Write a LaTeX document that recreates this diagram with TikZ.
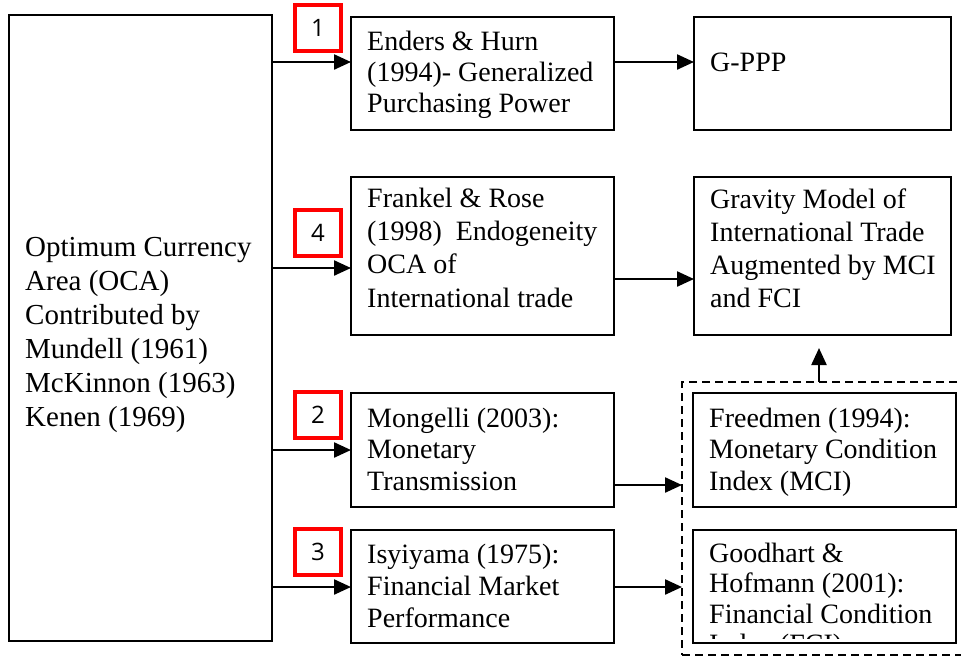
\documentclass[tikz,border=0pt]{standalone}
\usepackage{fontspec}
\setmainfont{Liberation Serif}
\newfontfamily\numfont{Open Sans}
\usetikzlibrary{arrows.meta,calc}

% invisible strut that fixes the top of the first text line
\newcommand\capline{\rule{0pt}{22pt}}

\begin{document}
\begin{tikzpicture}[x=1pt,y=-1pt,
  box/.style={draw=black, line width=1.8pt, anchor=north west, inner sep=0pt, outer sep=0pt},
  txt/.style={font=\fontsize{28}{#1}\selectfont, align=left, inner sep=0pt, anchor=north west},
  txt/.default=32,
  numbox/.style={draw=red, line width=4pt, minimum size=46pt, inner sep=0pt,
                 font=\numfont\fontsize{24}{26}\selectfont},
  arr/.style={line width=2.3pt, -{Triangle[length=17pt,width=15pt]}},
  dashbox/.style={draw=black, line width=1.8pt, dash pattern=on 8pt off 5pt,
                  anchor=north west, inner sep=0pt, outer sep=0pt}]
\useasboundingbox (0,0) rectangle (961,657);

% ---- boxes ----
\node[box, minimum width=263pt, minimum height=626pt] (oca) at (9,15) {};
\node[box, minimum width=263pt, minimum height=113pt] (enders) at (351,17) {};
\node[box, minimum width=263pt, minimum height=158pt] (frankel) at (351,177) {};
\node[box, minimum width=263pt, minimum height=114pt] (mong) at (351,393) {};
\node[box, minimum width=263pt, minimum height=113pt] (isiy) at (351,530) {};
\node[box, minimum width=257pt, minimum height=113pt] (gppp) at (694,17) {};
\node[box, minimum width=257pt, minimum height=158pt] (grav) at (694,177) {};
\node[box, minimum width=263pt, minimum height=114pt] (freed) at (693,393) {};
\node[box, minimum width=263pt, minimum height=113pt] (good) at (693,530) {};

% dashed frame around the two index boxes (runs off the right edge)
\begin{scope}
  \clip (0,0) rectangle (961,657);
  \node[dashbox, minimum width=300pt, minimum height=273pt] (idx) at (682,382) {};
\end{scope}

% ---- texts ----
\node[txt=34, font=\fontsize{29}{34}\selectfont] (tOca) at (25,234) {\capline Optimum Currency\\Area (OCA)\\Contributed by\\Mundell (1961)\\McKinnon (1963)\\Kenen (1969)};
\node[txt=31] (tEnders) at (367,28) {\capline Enders \& Hurn\\(1994)- Generalized\\Purchasing Power};
\node[txt=33.3] (tFrankel) at (367,185) {\capline Frankel \& Rose\\(1998)\ \ Endogeneity\\OCA of\\International trade};
\node[txt=31.5] (tMong) at (367,405) {\capline Mongelli (2003):\\Monetary\\Transmission};
\node[txt=32] (tIsiy) at (367,541) {\capline Isyiyama (1975):\\Financial Market\\Performance};
\node[txt] (tGppp) at (710,49) {\capline G-PPP};
\node[txt=33] (tGrav) at (710,186) {\capline Gravity Model of\\International Trade\\Augmented by MCI\\and FCI};
\node[txt=31.5] (tFreed) at (709,405) {\capline Freedmen (1994):\\Monetary Condition\\Index (MCI)};
\begin{scope}
  \clip (693,530) rectangle (956,638);
  \node[txt=30.5] (tGood) at (709,540) {\capline Goodhart \&\\Hofmann (2001):\\Financial Condition\\Index (FCI)};
\end{scope}

% ---- numbered tags ----
\node[numbox] (n1) at (318,28) {1};
\node[numbox] (n4) at (318,233) {4};
\node[numbox] (n2) at (318,415) {2};
\node[numbox] (n3) at (318,552) {3};

% ---- connector levels ----
\coordinate (r1) at (0,62);
\coordinate (r4) at (0,268);
\coordinate (r2) at (0,450);
\coordinate (r3) at (0,587);
\coordinate (rg) at (0,279);
\coordinate (rm) at (0,485);
\coordinate (up) at (819,0);

% ---- connectors ----
\draw[arr] (oca.east |- r1) -- (enders.west |- r1);
\draw[arr] (oca.east |- r4) -- (frankel.west |- r4);
\draw[arr] (oca.east |- r2) -- (mong.west |- r2);
\draw[arr] (oca.east |- r3) -- (isiy.west |- r3);
\draw[arr] (enders.east |- r1) -- (gppp.west |- r1);
\draw[arr] (frankel.east |- rg) -- (grav.west |- rg);
\draw[arr] (mong.east |- rm) -- (idx.west |- rm);
\draw[arr] (isiy.east |- r3) -- (idx.west |- r3);
\draw[arr] (idx.north -| up) -- ($(grav.south -| up)+(0,13)$);
\end{tikzpicture}
\end{document}
